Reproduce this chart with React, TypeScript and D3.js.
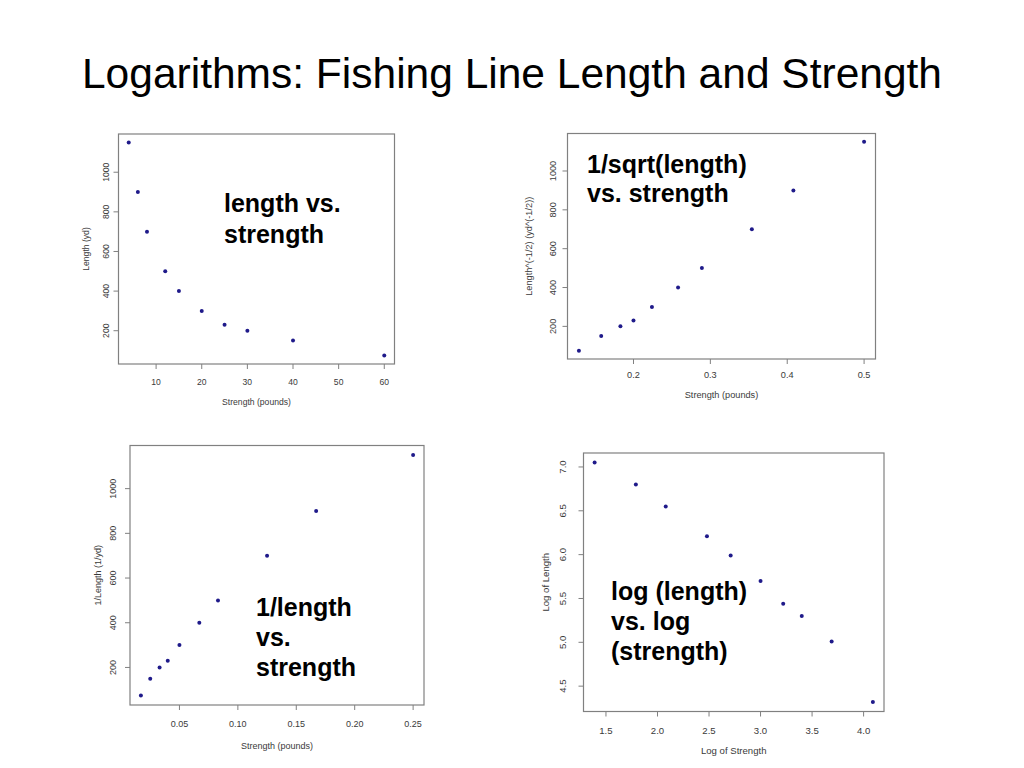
import React from "react";
import * as d3 from "d3";

// ---- data ----
const strength = [4, 6, 8, 12, 15, 20, 25, 30, 40, 60];
const lengthYd = [1150, 900, 700, 500, 400, 300, 230, 200, 150, 75];
const invSqrtStrength = [0.5, 0.408, 0.354, 0.289, 0.258, 0.224, 0.2, 0.183, 0.158, 0.129];
const invStrength = [0.25, 0.167, 0.125, 0.083, 0.067, 0.05, 0.04, 0.033, 0.025, 0.017];
const logStrength = [1.39, 1.79, 2.08, 2.48, 2.71, 3.0, 3.22, 3.4, 3.69, 4.09];
const logLength = [7.05, 6.8, 6.55, 6.21, 5.99, 5.7, 5.44, 5.3, 5.01, 4.32];

// ---- ticks ----
const lengthTicks = [200, 400, 600, 800, 1000];
const strengthTicks = [10, 20, 30, 40, 50, 60];
const invSqrtTicks = [0.2, 0.3, 0.4, 0.5];
const invTicks = [0.05, 0.1, 0.15, 0.2, 0.25];
const logStrengthTicks = [1.5, 2.0, 2.5, 3.0, 3.5, 4.0];
const logLengthTicks = [4.5, 5.0, 5.5, 6.0, 6.5, 7.0];

const titleText = "Logarithms: Fishing Line Length and Strength";

type Panel = {
  xs: number[];
  ys: number[];
  xTicks: number[];
  yTicks: number[];
  xFmt: (v: number) => string;
  yFmt: (v: number) => string;
  xTitle: string;
  yTitle: string;
  note: string[];
  frame: { l: number; t: number; r: number; b: number };
  off: { yTick: number; xTick: number; xTitle: number; yTitle: number };
  fs: number;
  noteX: number;
  noteY: number;
  noteGap: number;
};

const panels: Panel[] = [
  {
    xs: strength,
    ys: lengthYd,
    xTicks: strengthTicks,
    yTicks: lengthTicks,
    xFmt: d3.format("d"),
    yFmt: d3.format("d"),
    xTitle: "Strength (pounds)",
    yTitle: "Length (yd)",
    note: ["length vs.", "strength"],
    frame: { l: 118.5, t: 134, r: 394.5, b: 364 },
    off: { yTick: 13, xTick: 18, xTitle: 38, yTitle: 33 },
    fs: 8.6,
    noteX: 224,
    noteY: 212,
    noteGap: 31,
  },
  {
    xs: invSqrtStrength,
    ys: lengthYd,
    xTicks: invSqrtTicks,
    yTicks: lengthTicks,
    xFmt: d3.format(".1f"),
    yFmt: d3.format("d"),
    xTitle: "Strength (pounds)",
    yTitle: "Length^(-1/2) (yd^(-1/2))",
    note: ["1/sqrt(length)", "vs. strength"],
    frame: { l: 567.5, t: 133.5, r: 875.5, b: 359 },
    off: { yTick: 14.5, xTick: 16, xTitle: 36, yTitle: 39 },
    fs: 9.2,
    noteX: 587,
    noteY: 173,
    noteGap: 29,
  },
  {
    xs: invStrength,
    ys: lengthYd,
    xTicks: invTicks,
    yTicks: lengthTicks,
    xFmt: d3.format(".2f"),
    yFmt: d3.format("d"),
    xTitle: "Strength (pounds)",
    yTitle: "1/Length (1/yd)",
    note: ["1/length", "vs.", "strength"],
    frame: { l: 130, t: 445.5, r: 424, b: 705 },
    off: { yTick: 17, xTick: 19, xTitle: 41, yTitle: 32 },
    fs: 9,
    noteX: 256,
    noteY: 616,
    noteGap: 30,
  },
  {
    xs: logStrength,
    ys: logLength,
    xTicks: logStrengthTicks,
    yTicks: logLengthTicks,
    xFmt: d3.format(".1f"),
    yFmt: d3.format(".1f"),
    xTitle: "Log of Strength",
    yTitle: "Log of Length",
    note: ["log (length)", "vs. log", "(strength)"],
    frame: { l: 583.5, t: 453, r: 884, b: 711.5 },
    off: { yTick: 21, xTick: 19, xTitle: 39, yTitle: 38 },
    fs: 9.6,
    noteX: 611,
    noteY: 600,
    noteGap: 30,
  },
];

const padded = (vals: number[]): [number, number] => {
  const [lo, hi] = d3.extent(vals) as [number, number];
  const p = (hi - lo) * 0.04;
  return [lo - p, hi + p];
};

const FRAME = "#808080";
const TXT = "#3a3a3a";
const DOT = "#1f1a8a";
const FONT = "'Liberation Sans', Arial, Helvetica, sans-serif";

function PanelView({ p }: { p: Panel }) {
  const { l, t, r, b } = p.frame;
  const x = d3.scaleLinear().domain(padded(p.xs)).range([l, r]);
  const y = d3.scaleLinear().domain(padded(p.ys)).range([b, t]);
  const yMid = (t + b) / 2;
  const xMid = (l + r) / 2;
  return (
    <g>
      <rect x={l} y={t} width={r - l} height={b - t} fill="none" stroke={FRAME} strokeWidth={1.2} />
      {p.xTicks.map((v) => (
        <g key={"x" + v}>
          <line x1={x(v)} x2={x(v)} y1={b} y2={b + 5} stroke={FRAME} strokeWidth={1} />
          <text
            x={x(v)}
            y={b + p.off.xTick}
            textAnchor="middle"
            dominantBaseline="central"
            fontSize={p.fs}
            fill={TXT}
            fontFamily={FONT}
          >
            {p.xFmt(v)}
          </text>
        </g>
      ))}
      {p.yTicks.map((v) => (
        <g key={"y" + v}>
          <line x1={l - 5} x2={l} y1={y(v)} y2={y(v)} stroke={FRAME} strokeWidth={1} />
          <text
            transform={`translate(${l - p.off.yTick},${y(v)}) rotate(-90)`}
            textAnchor="middle"
            dominantBaseline="central"
            fontSize={p.fs}
            fill={TXT}
            fontFamily={FONT}
          >
            {p.yFmt(v)}
          </text>
        </g>
      ))}
      <text
        x={xMid}
        y={b + p.off.xTitle}
        textAnchor="middle"
        dominantBaseline="central"
        fontSize={p.fs}
        fill={TXT}
        fontFamily={FONT}
      >
        {p.xTitle}
      </text>
      <text
        transform={`translate(${l - p.off.yTitle},${yMid}) rotate(-90)`}
        textAnchor="middle"
        dominantBaseline="central"
        fontSize={p.fs}
        fill={TXT}
        fontFamily={FONT}
      >
        {p.yTitle}
      </text>
      {p.xs.map((v, i) => (
        <circle key={i} cx={x(v)} cy={y(p.ys[i])} r={2} fill={DOT} />
      ))}
      {p.note.map((line, i) => (
        <text
          key={i}
          x={p.noteX}
          y={p.noteY + i * p.noteGap}
          fontSize={25}
          fontWeight="bold"
          fill="#000"
          fontFamily={FONT}
        >
          {line}
        </text>
      ))}
    </g>
  );
}

export default function App() {
  return (
    <svg
      width={1024}
      height={768}
      style={{ position: "absolute", left: 0, top: 0, background: "#fff" }}
    >
      <rect x={0} y={0} width={1024} height={768} fill="#fff" />
      <text
        x={512}
        y={88}
        textAnchor="middle"
        fontSize={42.5}
        fill="#000"
        fontFamily={FONT}
      >
        {titleText}
      </text>
      {panels.map((p, i) => (
        <PanelView key={i} p={p} />
      ))}
    </svg>
  );
}
